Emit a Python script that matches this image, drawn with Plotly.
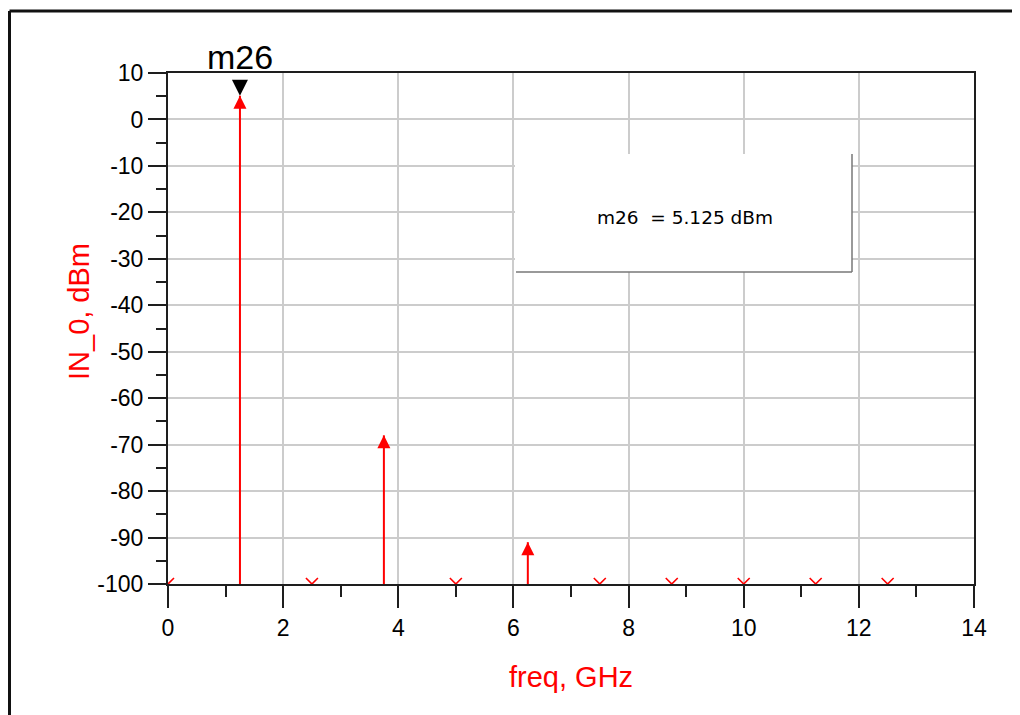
import plotly.graph_objects as go

# ---- data ----
spur_freq = [1.25, 3.75, 6.25]            # GHz
spur_power = [5.125, -68.0, -91.0]        # dBm
floor_freq = [0, 2.5, 5, 7.5, 8.75, 10, 11.25, 12.5]
floor_power = [-100, -100, -100, -100, -100, -100, -100, -100]
marker_name = "m26"
marker_freq = 1.25
marker_power = 5.125
x_ticks = [0, 2, 4, 6, 8, 10, 12, 14]
y_ticks = [10, 0, -10, -20, -30, -40, -50, -60, -70, -80, -90, -100]
x_range = [0, 14]
y_range = [-100, 10]

# ---- layout geometry (page pixels; page has an 8px body margin) ----
W, H = 1020, 715
OFF = 8
L, R, T, B = 168, 974, 73, 584


def px(p):
    return (p - L) / (R - L)


def py(p):
    return (B - p) / (B - T)


RED = "#ff0000"
DARK = "#1e1e1e"
GRID = "#cccccc"

# stems built from the data
stem_x, stem_y = [], []
for f, p in zip(spur_freq, spur_power):
    stem_x += [f, f, None]
    stem_y += [y_range[0], p, None]

fig = go.Figure()
fig.add_trace(go.Scatter(x=stem_x, y=stem_y, mode="lines",
                         line=dict(color=RED, width=2), hoverinfo="skip"))
fig.add_trace(go.Scatter(x=spur_freq, y=spur_power, mode="markers",
                         marker=dict(symbol="arrow-up", size=13, color=RED,
                                     line=dict(width=0))))
fig.add_trace(go.Scatter(x=floor_freq, y=floor_power, mode="markers",
                         marker=dict(symbol="x-thin", size=12,
                                     line=dict(color=RED, width=1.6))))
fig.add_trace(go.Scatter(x=[marker_freq], y=[marker_power], mode="markers",
                         marker=dict(symbol="arrow-down", size=16, color="black",
                                     line=dict(width=0))))

axis_common = dict(showline=True, mirror=True, linecolor=DARK, linewidth=2,
                   showgrid=True, gridcolor=GRID, gridwidth=2, zeroline=False,
                   ticks="outside", tickcolor=DARK, tickwidth=2,
                   tickfont=dict(family="Liberation Sans, Arial", size=23, color="black"))

fig.update_xaxes(range=x_range, tickvals=x_ticks, ticktext=[str(v) for v in x_ticks],
                 ticklen=22,
                 minor=dict(dtick=1, ticks="outside", ticklen=11, tickcolor=DARK,
                            tickwidth=2, showgrid=False),
                 **axis_common)
fig.update_yaxes(range=y_range, tickvals=y_ticks, ticktext=[str(v) for v in y_ticks],
                 ticklen=18,
                 minor=dict(dtick=5, ticks="outside", ticklen=10, tickcolor=DARK,
                            tickwidth=2, showgrid=False),
                 **axis_common)

shapes = [
    # outer frame (left and top)
    dict(type="line", xref="paper", yref="paper", x0=px(9.5), x1=px(W + 20),
         y0=py(11), y1=py(11), line=dict(color="#111111", width=3)),
    dict(type="line", xref="paper", yref="paper", x0=px(9.5), x1=px(9.5),
         y0=py(11), y1=py(H + 20), line=dict(color="#111111", width=3)),
    # readout box
    dict(type="rect", xref="paper", yref="paper", x0=px(515), x1=px(852),
         y0=py(154), y1=py(272), fillcolor="white", line=dict(width=0)),
    dict(type="line", xref="paper", yref="paper", x0=px(852), x1=px(852),
         y0=py(154), y1=py(272), line=dict(color="#777777", width=1.5)),
    dict(type="line", xref="paper", yref="paper", x0=px(516), x1=px(852),
         y0=py(272), y1=py(272), line=dict(color="#777777", width=1.5)),
]

annotations = [
    dict(text=f"{marker_name}  = {marker_power:.3f} dBm", xref="paper", yref="paper",
         x=px(685), y=py(217), showarrow=False, xanchor="center", yanchor="middle",
         font=dict(family="DejaVu Sans", size=18.5, color="black")),
    dict(text=marker_name, x=marker_freq, y=marker_power, xref="x", yref="y",
         showarrow=False, xanchor="center", yanchor="bottom", yshift=18,
         font=dict(family="Liberation Sans, Arial", size=34, color="black")),
    dict(text="IN_0, dBm", xref="paper", yref="paper", x=px(79), y=py(312),
         showarrow=False, textangle=-90, xanchor="center", yanchor="middle",
         font=dict(family="Liberation Sans, Arial", size=29, color=RED)),
    dict(text="freq, GHz", xref="paper", yref="paper", x=px(571), y=py(677),
         showarrow=False, xanchor="center", yanchor="middle",
         font=dict(family="Liberation Sans, Arial", size=29, color=RED)),
]

fig.update_layout(width=W, height=H,
                  margin=dict(l=L - OFF, r=W + OFF - R, t=T - OFF, b=H + OFF - B),
                  paper_bgcolor="white", plot_bgcolor="white", showlegend=False,
                  shapes=shapes, annotations=annotations)

fig.write_html("out.html", config={"displayModeBar": False})
